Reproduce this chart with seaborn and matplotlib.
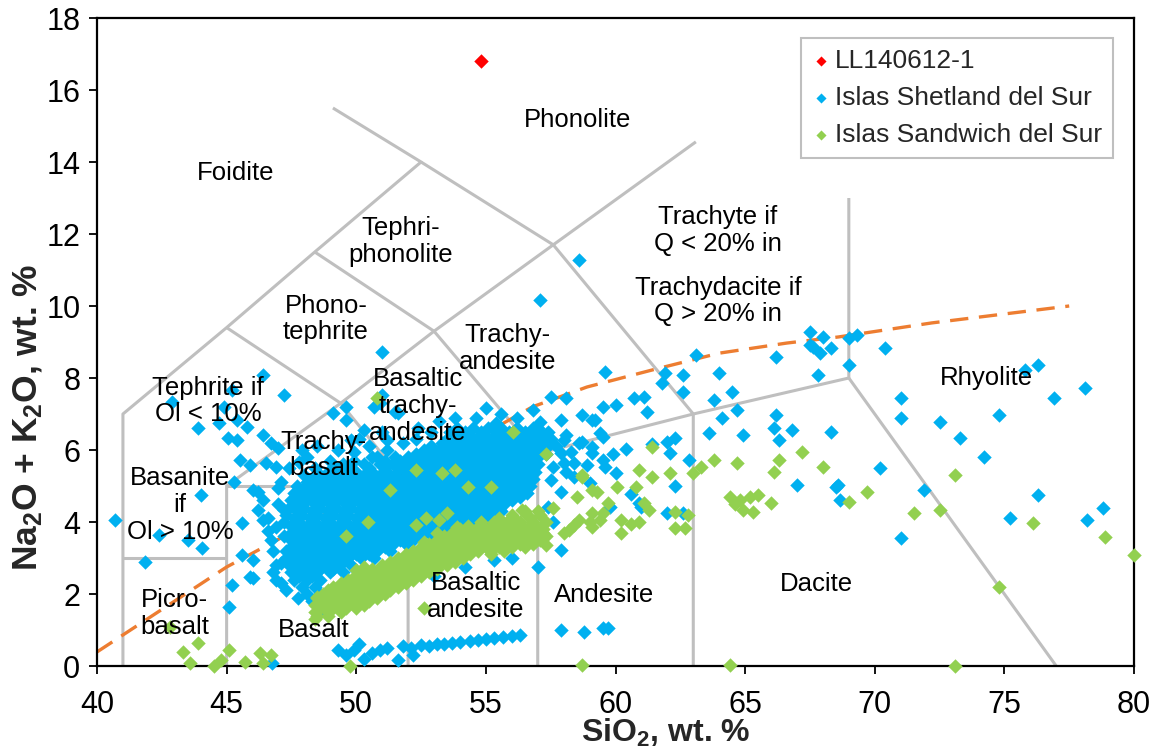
import numpy as np
import pandas as pd
import matplotlib
matplotlib.use("Agg")
import matplotlib.pyplot as plt
import seaborn as sns

# ---------------- data ----------------
sample_sio2 = [54.8]
sample_alk = [16.8]

# Islas Shetland del Sur: dense core, read row by row (alk -> SiO2 values)
shetland_core_rows = [
    (6.6, [53.9, 54.5, 55.1, 55.6, 56.2, 56.8]),
    (6.5, [53.6, 54.2, 54.8, 55.4, 55.9, 56.5, 57.1]),
    (6.4, [53.9, 54.4, 54.9, 55.3, 55.8, 56.3, 56.8, 57.3]),
    (6.3, [53.5, 54.1, 54.6, 55.1, 55.6, 56.0, 56.5, 57.0, 57.5]),
    (6.2, [53.3, 53.8, 54.3, 54.8, 55.3, 55.8, 56.2, 56.7, 57.2]),
    (6.1, [52.9, 53.5, 54.0, 54.5, 55.0, 55.5, 56.0, 56.4, 56.9, 57.4]),
    (6.0, [52.6, 53.2, 53.7, 54.2, 54.7, 55.2, 55.7, 56.2, 56.6, 57.1]),
    (5.9, [52.3, 52.9, 53.4, 53.9, 54.4, 54.9, 55.4, 55.9, 56.4, 56.8, 57.3]),
    (5.8, [50.6, 51.5, 52.0, 52.6, 53.1, 53.6, 54.1, 54.6, 55.1, 55.6, 56.1, 56.6, 57.0]),
    (5.7, [49.9, 51.1, 51.7, 52.3, 52.8, 53.3, 53.8, 54.3, 54.8, 55.3, 55.8, 56.3, 56.8]),
    (5.6, [49.5, 50.3, 50.9, 51.4, 52.0, 52.5, 53.0, 53.5, 54.0, 54.5, 55.0, 55.5, 56.0, 56.5, 57.0]),
    (5.5, [49.2, 49.8, 50.5, 51.1, 51.7, 52.2, 52.7, 53.2, 53.7, 54.2, 54.7, 55.2, 55.7, 56.2, 56.7]),
    (5.4, [48.9, 49.5, 50.0, 50.6, 51.2, 51.9, 52.4, 52.9, 53.4, 53.9, 54.4, 54.9, 55.4, 55.9, 56.4, 56.9]),
    (5.3, [48.6, 49.2, 49.7, 50.3, 50.9, 51.5, 52.1, 52.6, 53.1, 53.6, 54.1, 54.6, 55.1, 55.6, 56.1, 56.6]),
    (5.2, [48.3, 48.9, 49.4, 50.0, 50.6, 51.2, 51.8, 52.3, 52.8, 53.3, 53.8, 54.3, 54.8, 55.3, 55.8, 56.3, 56.8]),
    (5.1, [48.1, 48.6, 49.1, 49.7, 50.3, 50.9, 51.5, 52.0, 52.5, 53.0, 53.5, 54.0, 54.5, 55.0, 55.5, 56.0, 56.5]),
    (5.0, [47.7, 48.3, 48.8, 49.4, 50.0, 50.6, 51.2, 51.7, 52.2, 52.7, 53.2, 53.7, 54.2, 54.7, 55.2, 55.7, 56.2, 56.7]),
    (4.9, [47.9, 48.5, 49.1, 49.7, 50.3, 50.9, 51.4, 51.9, 52.4, 52.9, 53.4, 53.9, 54.4, 54.9, 55.4, 55.9, 56.4]),
    (4.8, [47.6, 48.2, 48.8, 49.4, 50.0, 50.6, 51.1, 51.6, 52.1, 52.6, 53.1, 53.6, 54.1, 54.6, 55.1, 55.6, 56.1, 56.6]),
    (4.7, [47.9, 48.5, 49.1, 49.7, 50.3, 50.8, 51.3, 51.8, 52.3, 52.8, 53.3, 53.8, 54.3, 54.8, 55.3, 55.8, 56.3]),
    (4.6, [47.5, 48.1, 48.7, 49.3, 49.9, 50.5, 51.0, 51.5, 52.0, 52.5, 53.0, 53.5, 54.0, 54.5, 55.0, 55.5, 56.0]),
    (4.5, [47.8, 48.4, 49.0, 49.6, 50.2, 50.7, 51.2, 51.7, 52.2, 52.7, 53.2, 53.7, 54.2, 54.7, 55.2, 55.7]),
    (4.4, [47.4, 48.0, 48.6, 49.2, 49.8, 50.4, 50.9, 51.4, 51.9, 52.4, 52.9, 53.4, 53.9, 54.4, 54.9, 55.4]),
    (4.3, [47.7, 48.3, 48.9, 49.5, 50.1, 50.6, 51.1, 51.6, 52.1, 52.6, 53.1, 53.6, 54.1, 54.6, 55.1, 55.6]),
    (4.2, [47.3, 47.9, 48.5, 49.1, 49.7, 50.3, 50.8, 51.3, 51.8, 52.3, 52.8, 53.3, 53.8, 54.3, 54.8, 55.3]),
    (4.1, [47.6, 48.2, 48.8, 49.4, 50.0, 50.5, 51.0, 51.5, 52.0, 52.5, 53.0, 53.5, 54.0, 54.5, 55.0]),
    (4.0, [47.2, 47.8, 48.4, 49.0, 49.6, 50.2, 50.7, 51.2, 51.7, 52.2, 52.7, 53.2, 53.7, 54.2, 54.7]),
    (3.9, [47.5, 48.1, 48.7, 49.3, 49.9, 50.4, 50.9, 51.4, 51.9, 52.4, 52.9, 53.4, 53.9]),
    (3.8, [47.8, 48.4, 49.0, 49.6, 50.1, 50.6, 51.1, 51.6, 52.1, 52.6, 53.1, 53.6]),
    (3.7, [47.5, 48.1, 48.7, 49.3, 49.8, 50.3, 50.8, 51.3, 51.8, 52.3, 52.8, 53.3]),
    (3.6, [47.2, 47.8, 48.4, 49.0, 49.5, 50.0, 50.5, 51.0, 51.5, 52.0, 52.5, 53.0]),
    (3.5, [47.5, 48.1, 48.7, 49.2, 49.7, 50.2, 50.7, 51.2, 51.7, 52.2]),
    (3.4, [47.8, 48.4, 48.9, 49.4, 49.9, 50.4, 50.9, 51.4, 51.9]),
    (3.3, [47.5, 48.1, 48.6, 49.1, 49.6, 50.1, 50.6, 51.1]),
    (3.2, [47.3, 47.8, 48.3, 48.8, 49.3, 49.8, 50.3, 50.8, 51.3]),
    (3.1, [47.5, 48.0, 48.5, 49.0, 49.5, 50.0, 50.5]),
    (3.0, [47.3, 47.8, 48.3, 48.8, 49.2, 49.7, 50.2, 50.7]),
    (2.9, [47.6, 48.1, 48.6, 49.0, 49.5]),
    (2.8, [47.4, 47.9, 48.4, 48.8, 49.3, 49.8]),
    (2.7, [47.7, 48.2, 48.6, 49.1]),
    (2.6, [47.5, 48.0, 48.5, 49.0, 49.5]),
    (2.5, [47.8, 48.3]),
    (2.4, [47.6, 48.1, 48.6]),
    (2.2, [47.9, 48.4]),
    (2.0, [48.1, 48.6]),
    (1.8, [48.3]),
]

# Islas Shetland del Sur: individually read points
shetland_points = [
    (40.7, 4.06), (41.85, 2.89), (42.4, 3.64), (42.9, 7.33), (43.5, 3.5), (43.9, 6.6), (44.0, 4.75),
    (44.05, 3.28), (44.7, 6.75), (44.9, 7.2), (45.05, 6.33), (45.2, 7.67), (45.4, 6.83), (45.4, 6.28),
    (45.3, 5.11), (45.5, 5.72), (45.6, 3.97), (45.6, 3.08), (45.8, 6.64), (45.9, 5.58), (46.0, 4.89),
    (46.0, 2.94), (46.0, 2.44), (45.2, 2.25), (45.1, 1.64), (45.9, 2.47), (46.2, 4.83), (46.2, 4.33),
    (46.4, 8.08), (46.4, 6.42), (46.4, 4.06), (46.4, 4.61), (46.5, 5.64), (46.6, 4.11), (46.7, 6.19),
    (46.7, 3.5), (46.75, 0.08), (46.9, 5.53), (46.9, 2.8), (46.9, 2.39), (46.9, 3.86), (47.0, 6.06),
    (47.1, 5.11), (47.1, 2.86), (47.2, 7.53), (47.2, 4.33), (47.3, 2.11), (47.4, 5.5), (47.6, 4.61),
    (47.75, 1.89), (47.8, 5.67), (48.1, 5.8), (48.7, 1.56), (46.8, 3.2), (47.0, 4.5), (46.6, 3.75),
    (47.0, 4.95), (46.8, 2.6), (47.1, 2.3),
    (49.3, 6.0), (49.9, 5.95), (50.5, 6.1), (51.2, 6.0), (51.8, 6.2), (52.3, 6.3), (51.0, 6.5),
    (50.1, 6.3), (49.0, 5.7), (48.4, 5.5), (48.0, 5.3), (52.9, 6.5), (53.2, 6.8), (53.8, 6.9),
    (54.6, 6.9), (55.6, 7.0), (56.2, 6.9), (48.5, 6.1), (47.9, 6.0),
    (49.1, 7.03), (49.6, 7.2), (49.6, 6.83), (49.8, 6.28), (50.3, 6.56), (50.7, 7.2), (50.9, 7.3),
    (51.0, 8.72), (51.0, 7.53), (51.5, 7.06), (51.6, 7.03), (51.2, 6.28), (50.8, 5.8), (52.4, 6.6),
    (55.0, 7.17), (55.4, 6.75), (55.7, 6.47), (56.3, 6.28), (56.8, 7.11), (57.0, 6.6), (57.5, 7.47),
    (58.1, 7.44), (58.7, 6.97), (59.1, 6.83), (57.1, 10.17), (58.6, 11.28), (59.6, 8.17),
    (57.9, 6.83), (58.0, 6.28), (58.6, 6.19), (57.1, 6.78), (57.4, 6.5), (58.1, 6.42), (59.1, 6.08),
    (58.7, 6.22), (59.4, 6.47), (59.5, 6.36), (59.5, 7.19), (60.0, 7.25), (60.7, 7.44), (61.1, 7.47),
    (61.2, 7.06), (59.2, 6.83), (57.9, 5.92), (58.0, 5.64), (58.4, 5.64), (58.9, 5.58), (57.6, 5.53),
    (58.4, 5.25), (59.1, 5.92), (59.5, 5.72), (59.9, 5.9), (60.4, 6.03), (61.4, 6.18), (62.0, 6.22),
    (62.3, 6.33), (62.1, 5.92), (62.85, 5.72), (60.0, 5.36), (60.6, 4.78), (60.9, 4.53), (61.0, 4.42),
    (62.0, 4.25), (62.6, 4.25), (62.3, 5.0), (57.9, 3.22), (59.8, 4.42), (57.4, 4.42), (57.9, 4.83),
    (57.5, 5.17), (59.0, 5.08), (59.6, 5.53), (58.1, 5.39), (57.7, 6.1), (58.3, 5.95),
    (57.6, 4.0), (56.0, 3.0), (55.3, 2.95), (57.0, 2.75), (53.0, 2.5), (54.2, 2.75),
    (61.9, 8.14), (62.6, 8.08), (61.8, 7.86), (62.6, 7.61), (63.1, 8.64), (64.0, 8.14), (64.5, 7.61),
    (63.8, 7.39), (64.7, 7.11), (64.1, 6.89), (63.6, 6.47), (64.9, 6.42), (66.2, 8.58), (67.5, 9.28),
    (68.0, 9.14), (67.6, 8.86), (68.3, 8.83), (67.8, 8.08), (67.9, 8.69), (67.5, 8.92), (69.0, 9.11),
    (69.3, 9.19), (69.0, 8.36), (70.4, 8.83), (66.2, 6.97), (66.1, 6.61), (66.8, 6.56), (66.3, 6.28),
    (68.3, 6.5), (67.0, 5.03), (68.5, 4.97), (68.6, 5.03), (68.65, 4.61), (70.2, 5.5), (71.0, 7.44),
    (71.0, 6.89), (72.5, 6.78), (73.3, 6.33), (74.8, 6.97), (74.2, 5.81), (75.8, 8.22), (76.3, 8.36),
    (76.9, 7.44), (78.1, 7.72), (71.9, 4.89), (71.0, 3.56), (75.2, 4.11), (76.3, 4.75), (78.2, 4.06),
    (78.8, 4.39), (57.9, 1.0), (58.8, 0.94), (59.5, 1.05), (59.7, 1.05),
    (49.3, 0.44), (49.6, 0.3), (49.9, 0.44), (50.3, 0.2), (50.6, 0.36), (50.9, 0.45), (51.2, 0.5),
    (51.6, 0.17), (51.8, 0.55), (52.1, 0.5), (52.5, 0.58), (52.8, 0.55), (53.1, 0.6), (53.4, 0.62),
    (53.7, 0.64), (54.0, 0.66), (54.4, 0.69), (54.7, 0.72), (55.0, 0.75), (55.3, 0.78), (55.65, 0.81),
    (56.0, 0.84), (56.3, 0.86), (52.2, 0.3), (50.1, 0.6),
]

# Islas Sandwich del Sur: dense band, read row by row
sandwich_core_rows = [
    (1.3, [48.4]),
    (1.4, [48.5, 48.9]),
    (1.5, [48.4, 48.9, 49.4]),
    (1.6, [48.6, 49.1, 49.6, 50.0]),
    (1.7, [48.4, 48.9, 49.4, 49.9, 50.3]),
    (1.8, [48.6, 49.1, 49.6, 50.1, 50.5]),
    (1.9, [48.5, 49.0, 49.5, 50.0, 50.4, 50.8]),
    (2.0, [48.7, 49.2, 49.7, 50.2, 50.7, 51.1]),
    (2.1, [48.9, 49.4, 49.9, 50.4, 50.9, 51.3]),
    (2.2, [49.1, 49.6, 50.1, 50.6, 51.1, 51.6]),
    (2.3, [49.4, 49.9, 50.4, 50.9, 51.4, 51.9]),
    (2.4, [49.7, 50.2, 50.7, 51.2, 51.7, 52.2]),
    (2.5, [50.0, 50.5, 51.0, 51.5, 52.0, 52.5]),
    (2.6, [50.3, 50.8, 51.3, 51.8, 52.3, 52.8]),
    (2.7, [50.6, 51.1, 51.6, 52.1, 52.6, 53.1]),
    (2.8, [51.0, 51.5, 52.0, 52.5, 53.0, 53.5]),
    (2.9, [51.3, 51.8, 52.3, 52.8, 53.3, 53.8]),
    (3.0, [51.6, 52.1, 52.6, 53.1, 53.6, 54.1]),
    (3.1, [51.9, 52.4, 52.9, 53.4, 53.9, 54.4, 55.2]),
    (3.2, [52.2, 52.7, 53.2, 53.7, 54.2, 54.7, 55.2, 55.7]),
    (3.3, [52.5, 53.0, 53.5, 54.0, 54.5, 55.0, 55.5, 56.0, 56.5]),
    (3.4, [52.8, 53.3, 53.8, 54.3, 54.8, 55.3, 55.8, 56.3, 56.8]),
    (3.5, [53.1, 53.6, 54.1, 54.6, 55.1, 55.6, 56.1, 56.6, 57.1]),
    (3.6, [53.4, 53.9, 54.4, 54.9, 55.4, 55.9, 56.4, 56.9, 57.3]),
    (3.7, [53.7, 54.2, 54.7, 55.2, 55.7, 56.2, 56.7, 57.2]),
    (3.8, [54.0, 54.6, 55.1, 55.6, 56.1, 56.6, 57.1]),
    (3.9, [54.3, 54.9, 55.4, 55.9, 56.4, 56.9]),
    (4.0, [54.8, 55.3, 55.8, 56.3, 56.8, 57.3]),
    (4.1, [55.5, 56.1, 56.7]),
    (4.2, [56.0, 56.6, 57.1]),
    (4.3, [56.5, 57.0]),
]

sandwich_points = [
    (42.8, 1.08), (43.9, 0.64), (43.3, 0.39), (43.6, 0.08), (44.5, 0.0), (45.1, 0.44), (44.8, 0.17),
    (45.7, 0.11), (46.3, 0.36), (46.7, 0.31), (46.4, 0.08), (49.75, 0.0), (58.7, 0.03), (64.4, 0.03),
    (73.1, 0.0), (50.8, 7.44), (52.3, 5.44), (53.3, 5.36), (53.8, 5.44), (54.3, 4.97), (55.2, 4.97),
    (56.05, 6.5), (57.3, 5.9), (50.45, 4.0), (52.3, 3.92), (52.7, 4.11), (53.2, 4.05), (53.5, 4.25),
    (52.6, 3.44), (53.1, 3.69), (53.9, 3.86), (54.9, 3.78), (56.4, 4.33), (50.3, 2.75), (49.9, 2.47),
    (52.6, 1.61), (48.5, 1.92), (50.0, 2.67), (51.3, 4.9), (49.6, 3.6),
    (58.7, 5.3), (59.1, 4.89), (58.5, 4.69), (58.7, 5.25), (59.3, 4.83), (60.05, 4.97), (60.8, 4.97),
    (59.7, 4.53), (59.1, 4.25), (58.6, 4.06), (58.2, 3.78), (60.2, 4.06), (60.9, 4.0), (60.2, 3.69),
    (59.5, 4.25), (59.1, 3.86), (58.0, 3.69), (57.6, 4.39), (57.3, 3.36), (57.2, 3.8), (58.4, 3.92),
    (59.0, 4.0), (59.4, 4.06), (60.6, 3.94), (61.1, 4.53), (61.3, 4.33), (62.3, 4.28), (62.3, 3.83),
    (62.8, 4.19), (62.7, 3.83), (61.4, 6.08), (60.9, 5.44), (61.4, 5.25), (62.1, 5.36), (63.0, 5.36),
    (63.3, 5.53), (63.8, 5.72), (64.7, 5.64), (66.3, 5.72), (66.1, 5.39), (67.2, 5.94), (68.0, 5.53),
    (69.7, 4.83), (69.0, 4.56), (64.4, 4.7), (64.8, 4.61), (65.2, 4.7), (65.5, 4.75), (64.9, 4.33),
    (65.3, 4.28), (66.0, 4.53), (64.6, 4.5), (71.5, 4.25), (72.5, 4.33), (73.1, 5.31), (76.1, 3.97),
    (78.9, 3.58), (80.0, 3.08), (74.8, 2.19),
]

# Alkaline / subalkaline divide
divide_sio2 = [40.0, 45.0, 49.7, 53.2, 55.0, 56.8, 58.9, 61.4, 64.0, 66.6, 68.6, 72.2, 77.5]
divide_alk = [0.39, 2.75, 4.56, 5.8, 6.47, 7.2, 7.75, 8.22, 8.69, 8.97, 9.14, 9.53, 10.0]

# TAS field boundaries (Le Bas et al. 1986)
tas_lines = [
    [(41, 0), (41, 7), (45, 9.4), (48.4, 11.5), (52.5, 14), (49.1, 15.5)],
    [(41, 3), (45, 3)],
    [(45, 0), (45, 5), (49.4, 7.3), (45, 9.4)],
    [(45, 5), (52, 5)],
    [(49.4, 7.3), (52, 5), (52, 0)],
    [(48.4, 11.5), (53, 9.3), (57, 5.9), (57, 0)],
    [(49.4, 7.3), (53, 9.3), (57.6, 11.7), (63.1, 14.56)],
    [(52.5, 14), (57.6, 11.7), (63, 7), (63, 0)],
    [(52, 5), (57, 5.9), (63, 7), (69, 8), (69, 13)],
    [(69, 8), (77, 0)],
]

field_labels = [
    ("Foidite", 45.36, 13.69), ("Phonolite", 58.55, 15.17), ("Tephri-\nphonolite", 51.7, 11.8),
    ("Phono-\ntephrite", 48.83, 9.64), ("Trachyte if\nQ < 20% in", 63.95, 12.1),
    ("Trachydacite if\nQ > 20% in", 63.95, 10.14), ("Trachy-\nandesite", 55.85, 8.83),
    ("Basaltic\ntrachy-\nandesite", 52.38, 7.22), ("Tephrite if\nOl < 10%", 44.28, 7.36),
    ("Trachy-\nbasalt", 48.75, 5.86), ("Basanite\nif\nOl > 10%", 43.2, 4.47),
    ("Picro-\nbasalt", 43.0, 1.47), ("Basalt", 48.37, 1.0), ("Basaltic\nandesite", 54.6, 1.94),
    ("Andesite", 59.55, 1.97), ("Dacite", 67.77, 2.28), ("Rhyolite", 74.3, 8.0),
]

x_ticks = [40, 45, 50, 55, 60, 65, 70, 75, 80]
y_ticks = [0, 2, 4, 6, 8, 10, 12, 14, 16, 18]

# ---------------- build tables ----------------
def rows_to_frame(rows, points):
    xs, ys = [], []
    for alk, sio2_list in rows:
        for s in sio2_list:
            xs.append(s)
            ys.append(alk)
    for s, a in points:
        xs.append(s)
        ys.append(a)
    return pd.DataFrame({"SiO2": xs, "alk": ys})

df_sample = pd.DataFrame({"SiO2": sample_sio2, "alk": sample_alk})
df_shet = rows_to_frame(shetland_core_rows, shetland_points)
df_sand = rows_to_frame(sandwich_core_rows, sandwich_points)

# ---------------- style ----------------
sns.set_style("ticks")
plt.rcParams["font.family"] = ["Liberation Sans", "DejaVu Sans"]
plt.rcParams["mathtext.fontset"] = "custom"
plt.rcParams["mathtext.rm"] = "Liberation Sans"
plt.rcParams["mathtext.bf"] = "Liberation Sans:bold"
plt.rcParams["mathtext.it"] = "Liberation Sans:italic"

W, H = 1164, 754
fig = plt.figure(figsize=(W / 100, H / 100), dpi=100)
ax = fig.add_axes([97 / W, (754 - 666) / H, (1134 - 97) / W, (666 - 18) / H])

GREY = "#BFBFBF"
for seg in tas_lines:
    xs = [p[0] for p in seg]
    ys = [p[1] for p in seg]
    ax.plot(xs, ys, color=GREY, lw=2.2, zorder=1, solid_capstyle="butt")

sns.lineplot(x=divide_sio2, y=divide_alk, ax=ax, color="#ED7D31", lw=2.4,
             sort=False, zorder=1.5)
ax.lines[-1].set_dashes([5.5, 3.2])

ms = 54
sns.scatterplot(data=df_sample, x="SiO2", y="alk", ax=ax, marker="D", s=ms,
                color="#FF0000", linewidth=0, label="LL140612-1", zorder=3)
sns.scatterplot(data=df_shet, x="SiO2", y="alk", ax=ax, marker="D", s=ms,
                color="#00B0F0", linewidth=0, label="Islas Shetland del Sur", zorder=3)
sns.scatterplot(data=df_sand, x="SiO2", y="alk", ax=ax, marker="D", s=ms,
                color="#92D050", linewidth=0, label="Islas Sandwich del Sur", zorder=3.1)
for coll in ax.collections:
    coll.set_clip_on(False)

for text, x, y in field_labels:
    ax.text(x, y, text, ha="center", va="center", fontsize=18.5, color="black",
            linespacing=1.15, zorder=5)

ax.set_xlim(40, 80)
ax.set_ylim(0, 18)
ax.set_xticks(x_ticks)
ax.set_yticks(y_ticks)
ax.tick_params(axis="both", direction="out", length=6, width=1.3, colors="black", labelsize=22)
ax.tick_params(axis="x", pad=11)
ax.tick_params(axis="y", pad=6)
for sp in ax.spines.values():
    sp.set_visible(True)
    sp.set_color("black")
    sp.set_linewidth(1.6)

ax.set_xlabel(r"SiO$_\mathbf{2}$, wt. %", fontsize=23, fontweight="bold")
ax.set_ylabel(r"Na$_\mathbf{2}$O + K$_\mathbf{2}$O, wt. %", fontsize=25.5, fontweight="bold")
ax.xaxis.set_label_coords((666 - 97) / 1037, -(733 - 666) / 648)
ax.xaxis.label.set_va("center")
ax.yaxis.set_label_coords((28 - 97) / 1037, (666 - 417) / 648)
ax.yaxis.label.set_va("center")

leg = ax.legend(loc="upper right", bbox_to_anchor=((1113 - 97) / 1037, (666 - 38) / 648),
                borderaxespad=0, fontsize=19, frameon=True, fancybox=False,
                markerscale=0.7, handlelength=0.7, handletextpad=0.2,
                labelspacing=0.5, borderpad=0.4)
leg.get_frame().set_edgecolor(GREY)
leg.get_frame().set_linewidth(1.5)
leg.get_frame().set_alpha(1)

fig.savefig("out.png", dpi=100)
